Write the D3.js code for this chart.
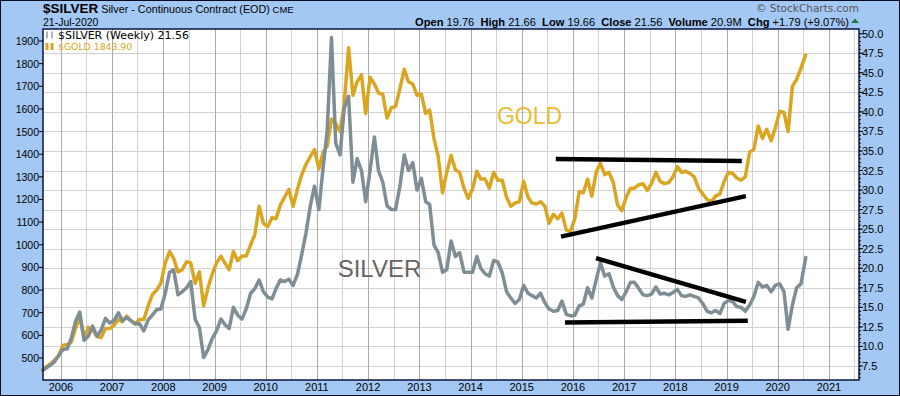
<!DOCTYPE html>
<meta http-equiv="Content-type" content="text/html;charset=UTF-8">
<html>
<head>
<title>$SILVER vs $GOLD</title>
<script src="https://cdn.jsdelivr.net/npm/d3@7"></script>
<style>
  body { margin: 0; }
  text { font-family: Arial, "Liberation Sans", sans-serif; }
</style>
<script>
// monthly values, Aug 2005 .. Jul 2020
var silver = [
  6.9, 7.2, 7.6, 8.0, 8.8,
  9.6, 9.7, 11.0, 13.2, 14.4, 10.8, 11.3, 12.6, 11.3, 12.1, 13.6, 13.0,
  13.3, 14.3, 13.3, 13.7, 13.3, 12.9, 12.9, 12.0, 13.4, 14.0, 14.7, 14.8,
  16.8, 19.5, 19.8, 16.6, 17.0, 17.5, 18.3, 13.5, 12.4, 8.6, 9.6, 11.0,
  12.0, 13.5, 12.8, 12.3, 15.0, 14.0, 13.5, 14.8, 16.8, 17.4, 18.5, 17.0,
  16.3, 16.1, 17.4, 18.5, 18.3, 18.6, 17.8, 19.2, 21.8, 24.5, 28.0, 30.5,
  27.5, 33.0, 37.5, 49.5, 36.0, 34.5, 40.5, 42.0, 31.0, 34.0, 32.5, 28.5,
  32.5, 36.8, 32.5, 31.0, 28.0, 27.5, 27.5, 30.5, 34.5, 32.5, 33.5, 30.0,
  31.5, 28.5, 28.2, 23.0, 22.0, 19.5, 19.8, 23.5, 21.5, 22.0, 19.5, 19.5,
  19.5, 21.5, 20.0, 19.3, 19.0, 21.0, 20.8, 19.4, 17.0, 16.2, 15.5, 16.0,
  17.8, 16.8, 16.5, 16.2, 16.8, 15.6, 14.8, 14.5, 14.6, 15.8, 14.1, 13.9,
  14.0, 15.2, 15.4, 17.5, 16.2, 18.5, 20.7, 19.0, 19.3, 17.6, 16.5, 16.0,
  17.0, 18.2, 18.2, 17.4, 16.6, 16.5, 16.7, 17.6, 16.7, 16.8, 16.6, 16.9,
  17.3, 16.5, 16.4, 16.6, 16.4, 16.2, 15.5, 14.5, 14.3, 14.6, 14.2, 15.5,
  15.9, 15.7, 15.1, 15.0, 14.5, 15.3, 16.4, 18.2, 17.6, 17.8, 17.0, 17.8,
  18.0, 17.0, 12.2, 15.3, 17.5, 18.0, 21.56
];
var gold = [
  440, 460, 472, 490, 510,
  555, 560, 570, 630, 680, 590, 635, 625, 595, 590, 630, 630,
  645, 670, 660, 685, 665, 650, 670, 670, 730, 780, 800, 830,
  920, 970, 940, 880, 890, 925, 920, 830, 880, 730, 810, 870,
  920, 950, 920, 890, 970, 930, 950, 950, 1000, 1045, 1170, 1095,
  1080, 1120, 1115, 1175, 1210, 1245, 1170, 1245, 1310, 1355, 1390, 1420,
  1335, 1410, 1435, 1555, 1535, 1500, 1625, 1870, 1660, 1720, 1750, 1580,
  1740, 1710, 1670, 1665, 1560, 1605, 1610, 1690, 1775, 1720, 1710, 1660,
  1665, 1580, 1595, 1470, 1390, 1230, 1320, 1395, 1330, 1320, 1250, 1205,
  1245, 1325, 1290, 1290, 1250, 1320, 1285, 1285, 1210, 1170, 1185, 1190,
  1280, 1210, 1185, 1180, 1190, 1170, 1095, 1135, 1115, 1140, 1065, 1060,
  1115, 1235, 1230, 1290, 1215, 1320, 1360, 1310, 1320, 1275, 1175, 1150,
  1210, 1250, 1250, 1265, 1270, 1240, 1270, 1320, 1280, 1270, 1275, 1300,
  1345, 1320, 1325, 1315, 1300, 1250, 1225, 1200, 1190, 1215, 1225, 1280,
  1320, 1315, 1295, 1285, 1300, 1410, 1420, 1525, 1470, 1510, 1460, 1515,
  1590, 1585, 1500, 1700, 1730, 1780, 1843.9
];
var goldTicks = [500, 600, 700, 800, 900, 1000, 1100, 1200, 1300, 1400, 1500, 1600, 1700, 1800, 1900];
var silverTicks = [7.5, 10, 12.5, 15, 17.5, 20, 22.5, 25, 27.5, 30, 32.5, 35, 37.5, 40, 42.5, 45, 47.5, 50];
var years = [2006, 2007, 2008, 2009, 2010, 2011, 2012, 2013, 2014, 2015, 2016, 2017, 2018, 2019, 2020, 2021];
// hand drawn trend lines: [date, value]
var goldLines = [
  [["2015-09-01", 1379], ["2019-04-20", 1370]],
  [["2015-10-08", 1036], ["2019-05-19", 1215]]
];
var silverLines = [
  [["2016-06-14", 21.3], ["2019-05-19", 15.7]],
  [["2015-11-06", 13.05], ["2019-06-02", 13.3]]
];
var quote = [["Open", "19.76"], ["High", "21.66"], ["Low", "19.66"], ["Close", "21.56"], ["Volume", "20.9M"], ["Chg", "+1.79 (+9.07%)"]];

var W = 900, H = 396, L = 43, R = 859, T = 29, B = 380;
var SILVER_CLR = "#7f8d95", GOLD_CLR = "#daa520";

window.onload = function(){
  var parse = d3.timeParse("%Y-%m-%d");
  var dates = d3.timeMonth.range(new Date(2005, 7, 1), new Date(2020, 7, 1)).map(function(d){ return new Date(d.getFullYear(), d.getMonth(), 15); });
  dates[dates.length - 1] = new Date(2020, 6, 21);

  var x = d3.scaleTime().domain([new Date(2005, 7, 26), new Date(2021, 7, 3)]).range([L, R]);
  var yG = d3.scaleLinear().domain([402.8, 1953]).range([B, T]);
  var yS = d3.scaleLinear().domain([5.71, 50.6]).range([B, T]);

  var svg = d3.select("#chart").append("svg").attr("width", W).attr("height", H);
  svg.append("rect").attr("x", 0.5).attr("y", 0.5).attr("width", W - 1).attr("height", H - 1)
    .style("fill", "#a4c8f4").style("stroke", "#0a0a20");
  svg.append("rect").attr("x", L).attr("y", T).attr("width", R - L).attr("height", B - T).style("fill", "#fff");

  // grid
  var g = svg.append("g");
  var mids = years.map(function(yr){ return new Date(yr - 1, 6, 1); }).concat([new Date(2021, 6, 1)]);
  g.selectAll(".mid").data(mids.filter(function(d){ return x(d) > L && x(d) < R; })).enter().append("line")
    .attr("x1", function(d){ return Math.round(x(d)) + 0.5; }).attr("x2", function(d){ return Math.round(x(d)) + 0.5; })
    .attr("y1", T).attr("y2", B).style("stroke", "#d2d2d2");
  g.selectAll(".hl").data(silverTicks.filter(function(v){ return v < 50; })).enter().append("line")
    .attr("x1", L).attr("x2", R)
    .attr("y1", function(d){ return Math.round(yS(d)) + 0.5; }).attr("y2", function(d){ return Math.round(yS(d)) + 0.5; })
    .style("stroke", "#d2d2d2");
  g.selectAll(".yr").data(years).enter().append("line")
    .attr("x1", function(d){ return Math.round(x(new Date(d, 0, 1))) + 0.5; }).attr("x2", function(d){ return Math.round(x(new Date(d, 0, 1))) + 0.5; })
    .attr("y1", T).attr("y2", B).style("stroke", "#a9a9a9");

  // series
  var goldLine = d3.line().x(function(d, i){ return x(dates[i]); }).y(function(d){ return yG(d); });
  var silverLine = d3.line().x(function(d, i){ return x(dates[i]); }).y(function(d){ return yS(d); });
  svg.append("path").datum(gold).attr("d", goldLine).style("fill", "none").style("stroke", GOLD_CLR).style("stroke-width", 3.5).style("stroke-linejoin", "round");
  svg.append("path").datum(silver).attr("d", silverLine).style("fill", "none").style("stroke", SILVER_CLR).style("stroke-width", 3.5).style("stroke-linejoin", "round");

  // trend lines
  goldLines.forEach(function(l){
    svg.append("line").attr("x1", x(parse(l[0][0]))).attr("y1", yG(l[0][1])).attr("x2", x(parse(l[1][0]))).attr("y2", yG(l[1][1]))
      .style("stroke", "#000").style("stroke-width", 4.5);
  });
  silverLines.forEach(function(l){
    svg.append("line").attr("x1", x(parse(l[0][0]))).attr("y1", yS(l[0][1])).attr("x2", x(parse(l[1][0]))).attr("y2", yS(l[1][1]))
      .style("stroke", "#000").style("stroke-width", 4.5);
  });

  svg.append("text").attr("x", x(parse("2014-07-08"))).attr("y", yG(1533)).text("GOLD")
    .style("font-size", "23px").style("fill", "#ecbc2e");
  svg.append("text").attr("x", x(parse("2011-05-29"))).attr("y", yS(18.9)).text("SILVER")
    .style("font-size", "24px").style("fill", "#6b6264");

  // frame
  svg.append("rect").attr("x", L).attr("y", T).attr("width", R - L).attr("height", B - T)
    .style("fill", "none").style("stroke", "#0b1440").style("stroke-width", 1.5);

  // left axis (gold)
  var la = svg.append("g");
  la.selectAll("line").data(goldTicks).enter().append("line")
    .attr("x1", L - 4).attr("x2", L).attr("y1", function(d){ return yG(d); }).attr("y2", function(d){ return yG(d); })
    .style("stroke", "#000");
  la.selectAll("text").data(goldTicks).enter().append("text")
    .attr("x", L - 4).attr("y", function(d){ return yG(d) + 4; }).attr("text-anchor", "end")
    .style("font-size", "10.5px").text(function(d){ return d; });

  // right axis (silver)
  var ra = svg.append("g");
  ra.selectAll(".mn").data(d3.range(12, 101).map(function(i){ return i / 2; })).enter().append("line")
    .attr("x1", R).attr("x2", R + 2).attr("y1", function(d){ return yS(d); }).attr("y2", function(d){ return yS(d); })
    .style("stroke", "#000");
  ra.selectAll(".mj").data(silverTicks).enter().append("line")
    .attr("x1", R).attr("x2", R + 4).attr("y1", function(d){ return yS(d); }).attr("y2", function(d){ return yS(d); })
    .style("stroke", "#000");
  ra.selectAll("text").data(silverTicks).enter().append("text")
    .attr("x", R + 3).attr("y", function(d){ return yS(d) + 4; })
    .style("font-size", "11px").text(function(d){ return d3.format(".1f")(d); });

  // bottom axis
  svg.append("g").selectAll("text").data(years).enter().append("text")
    .attr("x", function(d){ return x(new Date(d, 0, 1)); }).attr("y", 390.5).attr("text-anchor", "middle")
    .style("font-size", "11px").text(function(d){ return d; });

  // header
  var t1 = svg.append("text").attr("x", L).attr("y", 13);
  t1.append("tspan").text("$SILVER").style("font-size", "13.5px").style("font-weight", "bold");
  t1.append("tspan").text(" Silver - Continuous Contract (EOD)").style("font-size", "10.8px");
  t1.append("tspan").text(" CME").style("font-size", "9.5px");
  svg.append("text").attr("x", L).attr("y", 25.5).style("font-size", "10.5px").text("21-Jul-2020");
  svg.append("text").attr("x", R).attr("y", 12).attr("text-anchor", "end")
    .style("font-family", "'DejaVu Sans', Verdana, sans-serif").style("font-size", "10.5px").style("fill", "#555")
    .text("\u00a9 StockCharts.com");
  var q = svg.append("text").attr("x", 849).attr("y", 25.5).attr("text-anchor", "end").style("font-size", "11.1px");
  quote.forEach(function(p, i){
    q.append("tspan").text((i ? "  " : "") + p[0]).style("font-weight", "bold").attr("xml:space", "preserve");
    q.append("tspan").text(" " + p[1]);
  });
  svg.append("path").attr("d", "M851,23 L855,18.5 L859,23 Z").style("fill", "#1e7a3a");

  // legend
  var lg = svg.append("g");
  [[38.5, SILVER_CLR, "$SILVER (Weekly) 21.56", "#000", 11, 1.3], [50, GOLD_CLR, "$GOLD 1843.90", GOLD_CLR, 9.3, 3]].forEach(function(r){
    var yy = r[0];
    [0, 5].forEach(function(dx){
      lg.append("line").attr("x1", 47 + dx).attr("x2", 47 + dx).attr("y1", yy - 7).attr("y2", yy).style("stroke", r[1]).style("stroke-width", r[5]);
    });
    lg.append("text").attr("x", 58).attr("y", yy).style("font-family", "'DejaVu Sans', Verdana, sans-serif")
      .style("font-size", r[4] + "px").style("fill", r[3]).text(r[2]);
  });
};
</script>
</head>
<body>
<div id="chart"></div>
</body>
</html>
